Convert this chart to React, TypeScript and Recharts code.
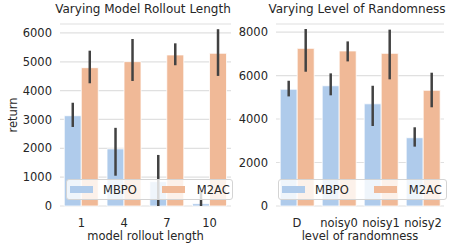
import { Bar, BarChart, CartesianGrid, ErrorBar, Legend, XAxis, YAxis } from 'recharts'

const rolloutLengths = ['1', '4', '7', '10']
const mbpoRollout = [3130, 1980, 845, 80]
const mbpoRolloutLow = [2740, 1050, 0, 0]
const mbpoRolloutHigh = [3580, 2710, 1770, 480]
const m2acRollout = [4795, 5005, 5237, 5295]
const m2acRolloutLow = [4255, 4335, 4880, 4510]
const m2acRolloutHigh = [5385, 5790, 5640, 6130]

const noiseLevels = ['D', 'noisy0', 'noisy1', 'noisy2']
const mbpoNoise = [5370, 5530, 4700, 3140]
const mbpoNoiseLow = [5040, 5090, 3680, 2730]
const mbpoNoiseHigh = [5760, 6100, 5530, 3620]
const m2acNoise = [7250, 7130, 7020, 5320]
const m2acNoiseLow = [6175, 6650, 5825, 4540]
const m2acNoiseHigh = [8140, 7570, 8110, 6130]

const seriesOrder = ['MBPO', 'M2AC']
const rolloutTicks = [0, 1000, 2000, 3000, 4000, 5000, 6000]
const noiseTicks = [0, 2000, 4000, 6000, 8000]

const MBPO_COLOR = '#afcbeb'
const M2AC_COLOR = '#f0b997'
const ERR_COLOR = '#424242'
const TEXT_COLOR = '#262626'
const FONT = '"DejaVu Sans", sans-serif'

function buildRows(
  cats: string[],
  mbpo: number[],
  mbpoLow: number[],
  mbpoHigh: number[],
  m2ac: number[],
  m2acLow: number[],
  m2acHigh: number[],
) {
  return cats.map((name, i) => ({
    name,
    MBPO: mbpo[i],
    mbpoErr: [mbpo[i] - mbpoLow[i], mbpoHigh[i] - mbpo[i]],
    M2AC: m2ac[i],
    m2acErr: [m2ac[i] - m2acLow[i], m2acHigh[i] - m2ac[i]],
  }))
}

const rolloutData = buildRows(
  rolloutLengths,
  mbpoRollout,
  mbpoRolloutLow,
  mbpoRolloutHigh,
  m2acRollout,
  m2acRolloutLow,
  m2acRolloutHigh,
)
const noiseData = buildRows(
  noiseLevels,
  mbpoNoise,
  mbpoNoiseLow,
  mbpoNoiseHigh,
  m2acNoise,
  m2acNoiseLow,
  m2acNoiseHigh,
)

function LegendBox(props: any) {
  const items = [...(props.payload || [])].sort(
    (a: any, b: any) => seriesOrder.indexOf(a.value) - seriesOrder.indexOf(b.value),
  )
  return (
    <div
      style={{
        boxSizing: 'border-box',
        width: '100%',
        height: 21,
        border: '1px solid #d4d4d4',
        borderRadius: 3,
        background: 'rgba(255,255,255,0.8)',
        display: 'flex',
        alignItems: 'center',
        fontFamily: FONT,
        fontSize: 11.5,
        color: TEXT_COLOR,
      }}
    >
      {items.map((item: any, i: number) => (
        <div key={item.value} style={{ display: 'flex', alignItems: 'center' }}>
          <span
            style={{
              display: 'inline-block',
              width: 23,
              height: 7.5,
              background: item.color,
              marginLeft: i === 0 ? 3 : 25,
              marginRight: i === 0 ? 10 : 12,
            }}
          />
          <span>{item.value}</span>
        </div>
      ))}
    </div>
  )
}

const tickStyle = { fill: TEXT_COLOR, fontSize: 11.5, fontFamily: FONT }

function Panel(props: {
  data: any[]
  ticks: number[]
  yMax: number
  width: number
  yWidth: number
  rightMargin: number
  xLabel: string
  yLabel?: string
  legendLeft: number
  legendWidth: number
}) {
  return (
    <BarChart
      width={props.width}
      height={248}
      data={props.data}
      margin={{ top: 24, right: props.rightMargin, bottom: 0, left: 0 }}
      barCategoryGap='10%'
      barGap={0}
    >
      <CartesianGrid vertical={false} stroke='#e0e0e0' strokeWidth={1.2} />
      <XAxis
        dataKey='name'
        height={42}
        tickLine={false}
        axisLine={false}
        tickMargin={7}
        tick={tickStyle}
        label={{
          value: props.xLabel,
          position: 'insideBottom',
          offset: 8,
          fill: TEXT_COLOR,
          fontSize: 11.5,
          fontFamily: FONT,
        }}
      />
      <YAxis
        width={props.yWidth}
        domain={[0, props.yMax]}
        ticks={props.ticks}
        tickLine={false}
        axisLine={false}
        tick={tickStyle}
        label={
          props.yLabel
            ? {
                value: props.yLabel,
                angle: -90,
                position: 'insideLeft',
                offset: 13,
                fill: TEXT_COLOR,
                fontSize: 11.5,
                fontFamily: FONT,
                style: { textAnchor: 'middle' },
              }
            : undefined
        }
      />
      <Bar dataKey='MBPO' fill={MBPO_COLOR} stroke='#ffffff' strokeWidth={0.8} isAnimationActive={false}>
        <ErrorBar dataKey='mbpoErr' width={0} stroke={ERR_COLOR} strokeWidth={2.5} />
      </Bar>
      <Bar dataKey='M2AC' fill={M2AC_COLOR} stroke='#ffffff' strokeWidth={0.8} isAnimationActive={false}>
        <ErrorBar dataKey='m2acErr' width={0} stroke={ERR_COLOR} strokeWidth={2.5} />
      </Bar>
      <Legend
        verticalAlign='middle'
        align='center'
        layout='horizontal'
        content={LegendBox}
        wrapperStyle={{ left: props.legendLeft, top: 179, width: props.legendWidth, height: 21 }}
      />
    </BarChart>
  )
}

const titleStyle = {
  position: 'absolute' as const,
  top: 2,
  fontSize: 12,
  lineHeight: '14px',
  color: TEXT_COLOR,
  textAlign: 'center' as const,
  whiteSpace: 'nowrap' as const,
}

export default function App() {
  return (
    <div
      style={{
        position: 'absolute',
        left: 0,
        top: 0,
        width: 457,
        height: 248,
        background: '#ffffff',
        fontFamily: FONT,
        overflow: 'hidden',
      }}
    >
      <div style={{ ...titleStyle, left: 43, width: 200 }}>Varying Model Rollout Length</div>
      <div style={{ ...titleStyle, left: 257, width: 200 }}>Varying Level of Randomness</div>
      <div style={{ position: 'absolute', left: 0, top: 0 }}>
        <Panel
          data={rolloutData}
          ticks={rolloutTicks}
          yMax={6310}
          width={232}
          yWidth={60}
          rightMargin={1}
          xLabel='model rollout length'
          yLabel='return'
          legendLeft={66}
          legendWidth={167}
        />
      </div>
      <div style={{ position: 'absolute', left: 232, top: 0 }}>
        <Panel
          data={noiseData}
          ticks={noiseTicks}
          yMax={8370}
          width={225}
          yWidth={44}
          rightMargin={13}
          xLabel='level of randomness'
          legendLeft={46}
          legendWidth={169}
        />
      </div>
    </div>
  )
}
